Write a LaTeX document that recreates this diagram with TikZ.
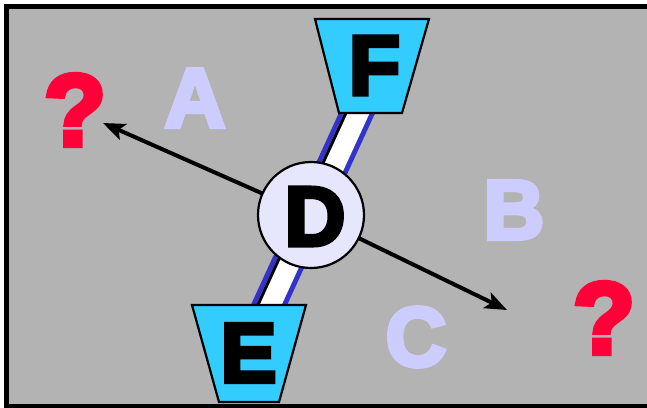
\documentclass[tikz,border=0pt]{standalone}
\usepackage{fontspec}
\setmainfont{Liberation Sans}
\newfontfamily\heavy[BoldFeatures={FakeBold=5}]{Liberation Sans}
\usetikzlibrary{arrows.meta}
\definecolor{bg}{RGB}{179,179,179}
\definecolor{lav}{RGB}{204,204,255}
\definecolor{qred}{RGB}{255,0,56}
\definecolor{cyanf}{RGB}{51,204,255}
\definecolor{circ}{RGB}{230,230,252}
\definecolor{bandblue}{RGB}{51,51,204}
\definecolor{shade}{RGB}{196,196,196}
\tikzset{
  bigletter/.style={inner sep=0pt, anchor=center, font=\fontsize{84}{84}\heavy\bfseries},
  ghost/.style={bigletter, text=lav},
  qmark/.style={inner sep=0pt, anchor=center, text=qred, font=\fontsize{102}{102}\heavy\bfseries},
  trap/.style={draw=black, line width=2.2pt, fill=cyanf, line join=miter},
  ptr/.style={draw=black, line width=4pt, -{Stealth[length=22pt,width=17pt,inset=5pt]}},
  hub/.style={circle, draw=black, line width=2.2pt, fill=circ, minimum size=106pt, inner sep=0pt},
}
\begin{document}
\begin{tikzpicture}[x=1pt,y=-1pt]
\useasboundingbox (0,0) rectangle (647,407);
\clip (0,0) rectangle (647,407);
\fill[white] (0,0) rectangle (647,407);
\draw[line width=5pt, fill=bg] (6.5,6.5) rectangle (670,406);

% band
\coordinate (bandtop) at (363,100);
\coordinate (bandbot) at (263,318);
\draw[bandblue, line width=33pt] (bandtop) -- (bandbot);
\draw[white, line width=23pt] (bandtop) -- (bandbot);
\draw[shade, line width=3pt] ([shift={(-9.2,-4.2)}]bandtop) -- ([shift={(-9.2,-4.2)}]bandbot);

% arrows from hub
\coordinate (hubc) at (311,215);
\coordinate (tipL) at (103,123);
\coordinate (tipR) at (507,310);
\draw[ptr] (hubc) -- (tipL);
\draw[ptr] (hubc) -- (tipR);
\node[hub] (D) at (hubc) {};

% trapezoids
\draw[trap] (315,19) -- (429,19) -- (402,113) -- (339,113) -- cycle;
\draw[trap] (192,305) -- (306,305) -- (279,402) -- (219,402) -- cycle;

% letters
\node[bigletter] (Dl) at (315,216.5) {D};
\node[bigletter] (F) at (374.5,65.5) {F};
\node[bigletter] (E) at (248.5,353) {E};
\node[ghost] (A) at (195,98) {A};
\node[ghost] (B) at (514,210) {B};
\node[ghost] (C) at (416,337) {C};
\node[qmark] (q1) at (75,110) {?};
\node[qmark] (q2) at (604,318) {?};
\end{tikzpicture}
\end{document}
